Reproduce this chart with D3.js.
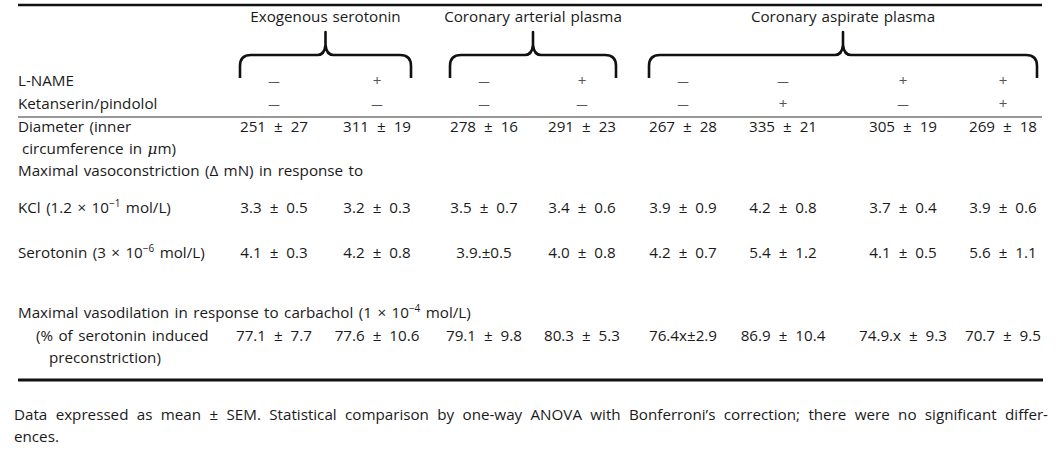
<!DOCTYPE html>
<html><head><meta charset="utf-8">
<script src="https://cdn.jsdelivr.net/npm/d3@7"></script>
<style>
html,body{margin:0;padding:0;background:#fff;}
text{font-family:"Open Sans",sans-serif;font-size:15.2px;fill:#1a1a1a;}
</style></head>
<body>
<svg id="c" width="1064" height="456"></svg>
<script>
const groups = ["Exogenous serotonin", "Coronary arterial plasma", "Coronary aspirate plasma"];
const groupCols = [[0, 1], [2, 3], [4, 7]];
const columns = [0, 1, 2, 3, 4, 5, 6, 7];
const lname = ["—", "+", "—", "+", "—", "—", "+", "+"];
const ketanserin = ["—", "—", "—", "—", "—", "+", "—", "+"];
const diameter = ["251 ± 27", "311 ± 19", "278 ± 16", "291 ± 23", "267 ± 28", "335 ± 21", "305 ± 19", "269 ± 18"];
const kcl = ["3.3 ± 0.5", "3.2 ± 0.3", "3.5 ± 0.7", "3.4 ± 0.6", "3.9 ± 0.9", "4.2 ± 0.8", "3.7 ± 0.4", "3.9 ± 0.6"];
const serotonin = ["4.1 ± 0.3", "4.2 ± 0.8", "3.9.±0.5", "4.0 ± 0.8", "4.2 ± 0.7", "5.4 ± 1.2", "4.1 ± 0.5", "5.6 ± 1.1"];
const carbachol = ["77.1 ± 7.7", "77.6 ± 10.6", "79.1 ± 9.8", "80.3 ± 5.3", "76.4x±2.9", "86.9 ± 10.4", "74.9.x ± 9.3", "70.7 ± 9.5"];
const footnote = ["Data expressed as mean ± SEM. Statistical comparison by one-way ANOVA with Bonferroni’s correction; there were no significant differ-", "ences."];

const svg = d3.select("#c");
const x = d3.scaleOrdinal().domain(columns).range([274, 377, 484, 582, 683, 783, 903, 1003]);

// rules
svg.append("line").attr("x1", 18).attr("x2", 1042).attr("y1", 5).attr("y2", 5).attr("stroke", "#111").attr("stroke-width", 2.4);
svg.append("line").attr("x1", 18).attr("x2", 1042).attr("y1", 117).attr("y2", 117).attr("stroke", "#333").attr("stroke-width", 1.1);
svg.append("line").attr("x1", 18).attr("x2", 1043).attr("y1", 380).attr("y2", 380).attr("stroke", "#111").attr("stroke-width", 3);

// group headers and braces
groups.forEach((g, i) => {
  const x0 = x(groupCols[i][0]) - 34, x1 = x(groupCols[i][1]) + 34, t = (x0 + x1) / 2;
  svg.append("text").attr("x", t).attr("y", 22).attr("text-anchor", "middle").attr("word-spacing", "1px").text(g);
  const p = `M${x0},78 L${x0},66 Q${x0},55 ${x0 + 11},55 L${t - 8},55 Q${t - 1},55 ${t},45 L${t},32 L${t},45 Q${t + 1},55 ${t + 8},55 L${x1 - 11},55 Q${x1},55 ${x1},66 L${x1},78`;
  svg.append("path").attr("d", p).attr("fill", "none").attr("stroke", "#111").attr("stroke-width", 2.6).attr("stroke-linejoin", "round");
});

function label(y, xx, parts) {
  const t = svg.append("text").attr("x", xx).attr("y", y).attr("word-spacing", "1.5px");
  parts.forEach(p => {
    const s = t.append("tspan").text(p.t);
    if (p.sup) s.attr("dy", -6).style("font-size", "10px");
    if (p.down) s.attr("dy", 6);
    if (p.it) s.style("font-style", "italic").style("font-family", "'DejaVu Serif',serif");
  });
  return t;
}
function row(y, vals, color) {
  svg.append("g").selectAll("text").data(vals).join("text")
    .attr("x", (d, i) => x(columns[i])).attr("y", y).attr("text-anchor", "middle")
    .attr("word-spacing", "4px")
    .style("fill", color || "#1a1a1a").text(d => d);
}
function signs(y, vals) {
  svg.append("g").selectAll("text").data(vals).join("text")
    .attr("x", (d, i) => x(columns[i])).attr("y", d => d === "—" ? y - 1 : y)
    .attr("text-anchor", "middle")
    .style("font-size", d => d === "—" ? "11.5px" : "15.2px")
    .style("fill", "#555").text(d => d);
}

label(86, 18, [{t: "L-NAME"}]);
signs(86, lname);
label(108.5, 18, [{t: "Ketanserin/pindolol"}]);
signs(108.5, ketanserin);

label(132, 18, [{t: "Diameter (inner"}]);
row(132, diameter);
label(154, 22, [{t: "circumference in "}, {t: "μ", it: true}, {t: "m)"}]);
label(176, 18, [{t: "Maximal vasoconstriction (Δ mN) in response to"}]);

label(213, 18, [{t: "KCl (1.2 × 10"}, {t: "−1", sup: true}, {t: " mol/L)", down: true}]);
row(213, kcl);
label(258, 18, [{t: "Serotonin (3 × 10"}, {t: "−6", sup: true}, {t: " mol/L)", down: true}]);
row(258, serotonin);

label(318, 18, [{t: "Maximal vasodilation in response to carbachol (1 × 10"}, {t: "−4", sup: true}, {t: " mol/L)", down: true}]);
label(341, 36, [{t: "(% of serotonin induced"}]);
row(341, carbachol);
label(363, 49, [{t: "preconstriction)"}]);

// footnote, justified first line
const f1 = svg.append("text").attr("x", 14).attr("y", 420).text(footnote[0]);
const nat = f1.node().getComputedTextLength();
const spaces = (footnote[0].match(/ /g) || []).length;
f1.attr("word-spacing", ((1048 - 14 - nat) / spaces) + "px");
svg.append("text").attr("x", 14).attr("y", 442).text(footnote[1]);
</script>
</body></html>
